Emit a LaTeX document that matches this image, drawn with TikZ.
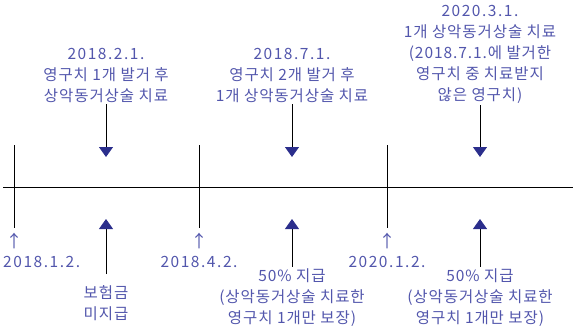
\documentclass[tikz,border=0pt]{standalone}
\usepackage{fontspec}
\setmainfont[LetterSpace=6]{Noto Sans CJK KR}
\usetikzlibrary{arrows.meta}
\definecolor{txtblue}{RGB}{82,86,172}
\definecolor{tipblue}{RGB}{43,46,140}
\newcommand\dt[1]{{\addfontfeatures{LetterSpace=10}#1}}
\tikzset{
 lbl/.style={text=txtblue,align=center,font=\fontsize{15.5}{21}\selectfont,inner sep=2pt},
 tip/.style={line width=0.9pt,-{Triangle[width=14pt,length=10pt,fill=tipblue,color=tipblue]}},
}

\begin{document}
\begin{tikzpicture}[x=1pt,y=-1pt]
\useasboundingbox (0,0)rectangle(573,333);
\draw[line width=1pt](3,187)--(573,187);
\foreach \x in {14,199,387}\draw[line width=1pt](\x,145)--(\x,228);
\node[lbl](t1)at(106,75){\dt{2018.2.1.}\\영구치 1개 발거 후\\상악동거상술 치료};
\node[lbl](t2)at(292,75){\dt{2018.7.1.}\\영구치 2개 발거 후\\1개 상악동거상술 치료};
\node[lbl](t3)at(480,54){\dt{2020.3.1.}\\1개 상악동거상술 치료\\(2018.7.1.에 발거한\\영구치 중 치료받지\\않은 영구치)};
\node[lbl](b1)at(106,303){보험금\\미지급};
\node[lbl](b2)at(292,298){50\% 지급\\(상악동거상술 치료한\\영구치 1개만 보장)};
\node[lbl](b3)at(480,298){50\% 지급\\(상악동거상술 치료한\\영구치 1개만 보장)};
\foreach \n/\x in {1/106,2/292,3/480}{
 \coordinate(h\n)at(\x,157);
 \coordinate(g\n)at(\x,219);
 \draw[tip](t\n)--(h\n);
}
\draw[tip,shorten <=9pt](b1)--(g1);
\draw[tip](b2)--(g2);
\draw[tip](b3)--(g3);
\foreach \n/\x in {1/14,2/199,3/387}\node[lbl,font=\fontsize{17}{17}\selectfont\addfontfeatures{LetterSpace=0}](u\n)at(\x,241){↑};
\node[lbl,anchor=west](d1)at(1,262){\dt{2018.1.2.}};
\node[lbl](d2)at(199,262){\dt{2018.4.2.}};
\node[lbl](d3)at(387,262){\dt{2020.1.2.}};
\end{tikzpicture}
\end{document}
